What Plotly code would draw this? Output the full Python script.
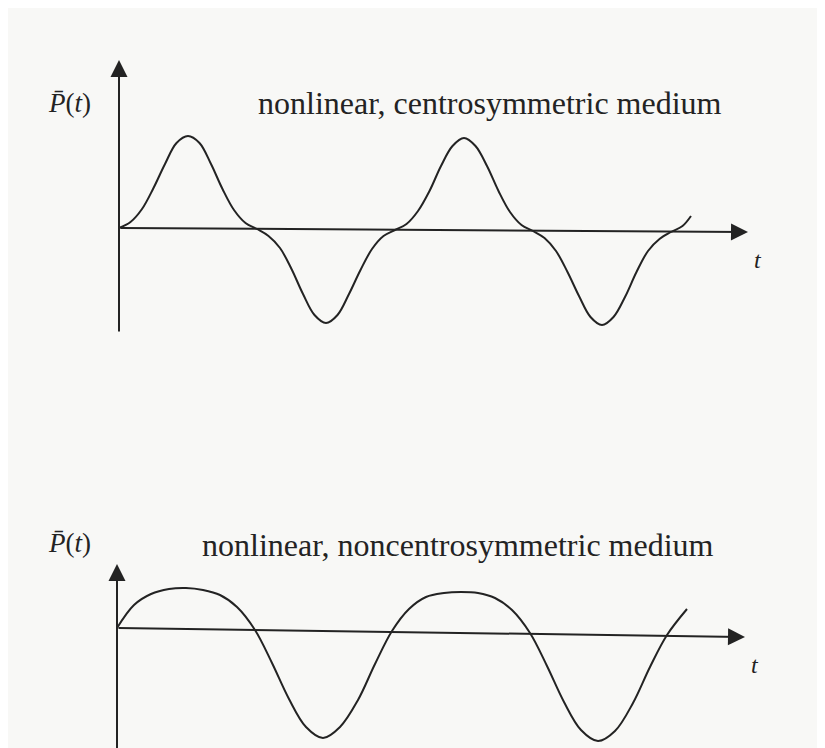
import plotly.graph_objects as go

# curves: t = horizontal offset from the origin, P = height above it
t_centro = [0, 11.5, 23, 34.5, 46, 57.5, 69, 80.5, 92, 103.5, 115, 126.5, 138,
            149.5, 161, 172.5, 184, 195.5, 207, 218.5, 230, 241.5, 253, 264.5, 276,
            287.5, 299, 310.5, 322, 333.5, 345, 356.5, 368, 379.5, 391, 402.5, 414,
            425.5, 437, 448.5, 460, 471.5, 483, 494.5, 506, 517.5, 529, 540.5, 552,
            563.5, 572]
P_centro = [0, 6, 19, 40, 64, 85, 92, 85, 64, 39, 18, 5, -1,
            -8, -20, -41, -66, -87, -95, -87, -66, -42, -21, -8, -2,
            4, 17, 37, 62, 82, 90, 82, 62, 37, 16, 3, -3,
            -10, -23, -44, -68, -89, -97, -89, -69, -44, -23, -11, -4,
            2, 12]

t_noncentro = [0, 17, 34, 52, 69, 86, 103, 120, 138, 155, 172, 189, 206, 223, 241,
               258, 275, 292, 309, 327, 344, 361, 378, 395, 413, 430, 447, 464,
               481, 498, 516, 533, 550, 570]
P_noncentro = [0, 23, 34, 39, 40, 38, 33, 21, -2, -35, -71, -99, -110, -99, -72,
               -36, -3, 19, 31, 35, 36, 35, 30, 18, -5, -38, -74, -102,
               -113, -103, -75, -39, -7, 19]

panels = [
    dict(t=t_centro, P=P_centro, label="nonlinear, centrosymmetric medium",
         ox=119, oy=228, band=(8, 378), dom=[0.5, 1.0], y_bot=-105, y_top=168,
         x_end=629, x_tilt=-4, text_x=490, text_y=125, lab_y=125),
    dict(t=t_noncentro, P=P_noncentro, label="nonlinear, noncentrosymmetric medium",
         ox=117, oy=628, band=(378, 748), dom=[0.0, 0.5], y_bot=-122, y_top=64,
         x_end=628, x_tilt=-9, text_x=458, text_y=83, lab_y=85),
]

OFF = 8  # page body margin
W, H = 825 - OFF, 748 - OFF
INK = "#232323"
SERIF = "Liberation Serif, Times New Roman, serif"

fig = go.Figure()
annotations = []
for i, p in enumerate(panels):
    xa = "x" if i == 0 else "x2"
    ya = "y" if i == 0 else "y2"
    fig.add_trace(go.Scatter(x=p["t"], y=p["P"], mode="lines", line_shape="spline",
                             line=dict(color=INK, width=2), xaxis=xa, yaxis=ya,
                             showlegend=False, hoverinfo="skip"))
    # axes with arrowheads
    annotations.append(dict(x=0, y=p["y_top"], ax=0, ay=p["y_bot"], xref=xa, yref=ya,
                            axref=xa, ayref=ya, text="", showarrow=True, arrowhead=2,
                            arrowsize=1.7, arrowwidth=2, arrowcolor=INK))
    annotations.append(dict(x=p["x_end"], y=p["x_tilt"], ax=0, ay=0, xref=xa, yref=ya,
                            axref=xa, ayref=ya, text="", showarrow=True, arrowhead=2,
                            arrowsize=1.7, arrowwidth=2, arrowcolor=INK))
    annotations.append(dict(x=p["x_end"] + 10, y=p["x_tilt"] - 28, xref=xa, yref=ya,
                            text="<i>t</i>", showarrow=False,
                            font=dict(family=SERIF, size=24, color=INK)))
    annotations.append(dict(x=93 - p["ox"], y=p["lab_y"], xref=xa, yref=ya,
                            xanchor="right", text="<i>P̄</i>(<i>t</i>)", showarrow=False,
                            font=dict(family=SERIF, size=27, color=INK)))
    annotations.append(dict(x=p["text_x"] - p["ox"], y=p["text_y"], xref=xa, yref=ya,
                            text=p["label"], showarrow=False,
                            font=dict(family=SERIF, size=32, color=INK)))

    y0, y1 = p["band"]
    axis_y = dict(domain=p["dom"], range=[p["oy"] - y1, p["oy"] - y0],
                  visible=False, fixedrange=True)
    axis_x = dict(domain=[0, 1], range=[OFF - p["ox"], OFF + W - p["ox"]],
                  visible=False, fixedrange=True)
    if i == 0:
        fig.update_layout(xaxis=axis_x, yaxis=axis_y)
    else:
        axis_x["anchor"] = "y2"
        axis_y["anchor"] = "x2"
        fig.update_layout(xaxis2=axis_x, yaxis2=axis_y)

fig.update_layout(
    width=W, height=H,
    margin=dict(l=0, r=0, t=0, b=0),
    paper_bgcolor="#f8f8f6",
    plot_bgcolor="#f8f8f6",
    annotations=annotations,
)

fig.write_html("out.html")
